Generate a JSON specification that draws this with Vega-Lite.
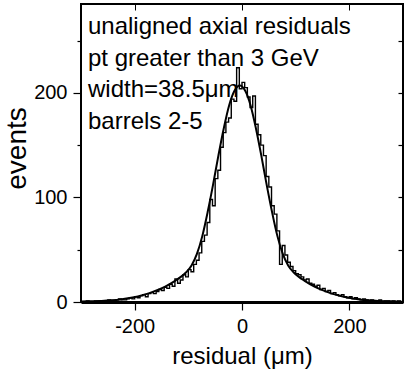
{
  "$schema": "https://vega.github.io/schema/vega-lite/v6.json",
  "autosize": {"type": "none"},
  "padding": {"left": 81, "top": 4, "right": 4, "bottom": 80},
  "width": 322,
  "height": 298,
  "background": "white",
  "config": {
    "view": {"stroke": "black", "strokeWidth": 2},
    "axis": {"labelFont": "Liberation Sans", "titleFont": "Liberation Sans", "labelColor": "black", "titleColor": "black", "tickColor": "black", "domainColor": "black", "grid": false, "titleFontWeight": "normal", "labelFlush": false}
  },
  "datasets": {
    "hist": [
      {"x": -300, "n": 0}, {"x": -295, "n": 0}, {"x": -290, "n": 1}, {"x": -285, "n": 0}, {"x": -280, "n": 0},
      {"x": -275, "n": 1}, {"x": -270, "n": 1}, {"x": -265, "n": 0}, {"x": -260, "n": 1}, {"x": -255, "n": 1},
      {"x": -250, "n": 2}, {"x": -245, "n": 1}, {"x": -240, "n": 1}, {"x": -235, "n": 2}, {"x": -230, "n": 3},
      {"x": -225, "n": 2}, {"x": -220, "n": 2}, {"x": -215, "n": 3}, {"x": -210, "n": 4}, {"x": -205, "n": 3},
      {"x": -200, "n": 5}, {"x": -195, "n": 4}, {"x": -190, "n": 6}, {"x": -185, "n": 7}, {"x": -180, "n": 5},
      {"x": -175, "n": 8}, {"x": -170, "n": 9}, {"x": -165, "n": 8}, {"x": -160, "n": 10}, {"x": -155, "n": 12},
      {"x": -150, "n": 11}, {"x": -145, "n": 14}, {"x": -140, "n": 13}, {"x": -135, "n": 17}, {"x": -130, "n": 15},
      {"x": -125, "n": 22}, {"x": -120, "n": 18}, {"x": -115, "n": 21}, {"x": -110, "n": 26}, {"x": -105, "n": 24},
      {"x": -100, "n": 31}, {"x": -95, "n": 29}, {"x": -90, "n": 36}, {"x": -85, "n": 40}, {"x": -80, "n": 47},
      {"x": -75, "n": 58}, {"x": -70, "n": 64}, {"x": -65, "n": 76}, {"x": -60, "n": 98}, {"x": -55, "n": 92},
      {"x": -50, "n": 118}, {"x": -45, "n": 126}, {"x": -40, "n": 148}, {"x": -35, "n": 162}, {"x": -30, "n": 172},
      {"x": -25, "n": 176}, {"x": -20, "n": 194}, {"x": -15, "n": 192}, {"x": -10, "n": 224}, {"x": -5, "n": 204},
      {"x": 0, "n": 210}, {"x": 5, "n": 205}, {"x": 10, "n": 196}, {"x": 15, "n": 186}, {"x": 20, "n": 197},
      {"x": 25, "n": 170}, {"x": 30, "n": 160}, {"x": 35, "n": 150}, {"x": 40, "n": 140}, {"x": 45, "n": 120},
      {"x": 50, "n": 110}, {"x": 55, "n": 92}, {"x": 60, "n": 84}, {"x": 65, "n": 68}, {"x": 70, "n": 36},
      {"x": 75, "n": 54}, {"x": 80, "n": 45}, {"x": 85, "n": 38}, {"x": 90, "n": 34}, {"x": 95, "n": 30},
      {"x": 100, "n": 27}, {"x": 105, "n": 26}, {"x": 110, "n": 24}, {"x": 115, "n": 21}, {"x": 120, "n": 22},
      {"x": 125, "n": 18}, {"x": 130, "n": 17}, {"x": 135, "n": 15}, {"x": 140, "n": 16}, {"x": 145, "n": 12},
      {"x": 150, "n": 13}, {"x": 155, "n": 10}, {"x": 160, "n": 11}, {"x": 165, "n": 8}, {"x": 170, "n": 9},
      {"x": 175, "n": 7}, {"x": 180, "n": 6}, {"x": 185, "n": 7}, {"x": 190, "n": 5}, {"x": 195, "n": 4},
      {"x": 200, "n": 5}, {"x": 205, "n": 3}, {"x": 210, "n": 4}, {"x": 215, "n": 3}, {"x": 220, "n": 2},
      {"x": 225, "n": 3}, {"x": 230, "n": 2}, {"x": 235, "n": 1}, {"x": 240, "n": 2}, {"x": 245, "n": 1},
      {"x": 250, "n": 1}, {"x": 255, "n": 2}, {"x": 260, "n": 0}, {"x": 265, "n": 1}, {"x": 270, "n": 1},
      {"x": 275, "n": 0}, {"x": 280, "n": 1}, {"x": 285, "n": 0}, {"x": 290, "n": 1}, {"x": 295, "n": 0},
      {"x": 300, "n": 0}
    ],
    "fit": [
      {"x": -300, "y": 0.4}, {"x": -284, "y": 0.6}, {"x": -264, "y": 1.0}, {"x": -244, "y": 1.6}, {"x": -224, "y": 2.7},
      {"x": -204, "y": 4.3}, {"x": -184, "y": 6.8}, {"x": -164, "y": 10.2}, {"x": -144, "y": 14.5}, {"x": -124, "y": 20.5},
      {"x": -114, "y": 24}, {"x": -104, "y": 28.5}, {"x": -94, "y": 35}, {"x": -84, "y": 46}, {"x": -74, "y": 63},
      {"x": -64, "y": 86}, {"x": -54, "y": 112}, {"x": -44, "y": 140}, {"x": -34, "y": 166}, {"x": -24, "y": 188},
      {"x": -14, "y": 202}, {"x": -4, "y": 207}, {"x": 6, "y": 202}, {"x": 16, "y": 188}, {"x": 26, "y": 166},
      {"x": 36, "y": 140}, {"x": 46, "y": 112}, {"x": 56, "y": 86}, {"x": 66, "y": 63}, {"x": 76, "y": 46},
      {"x": 86, "y": 35}, {"x": 96, "y": 28.5}, {"x": 106, "y": 24}, {"x": 116, "y": 20.5}, {"x": 136, "y": 14.5},
      {"x": 156, "y": 10.2}, {"x": 176, "y": 6.8}, {"x": 196, "y": 4.3}, {"x": 216, "y": 2.7}, {"x": 236, "y": 1.6},
      {"x": 256, "y": 1.0}, {"x": 276, "y": 0.6}, {"x": 296, "y": 0.35}, {"x": 300, "y": 0.33}
    ]
  },
  "resolve": {"scale": {"x": "shared", "y": "shared"}, "axis": {"x": "independent", "y": "independent"}},
  "layer": [
    {
      "data": {"name": "hist"},
      "mark": {"type": "line", "interpolate": "step-after", "color": "black", "strokeWidth": 1.4, "clip": true},
      "encoding": {
        "x": {"field": "x", "type": "quantitative", "scale": {"domain": [-300, 300], "nice": false, "zero": false},
          "axis": {"orient": "bottom", "values": [-200, 0, 200], "labelExpr": "'' + datum.value", "tickSize": 8, "tickWidth": 1.2, "labelFontSize": 20, "labelPadding": 6, "title": "residual (μm)", "titleFontSize": 24, "titlePadding": 8, "domainWidth": 3}},
        "y": {"field": "n", "type": "quantitative", "scale": {"domain": [0, 285], "nice": false, "zero": false},
          "axis": {"orient": "left", "values": [0, 100, 200], "tickSize": 8, "tickWidth": 1.2, "labelFontSize": 20, "labelPadding": 6, "title": "events", "titleFontSize": 28, "titleBaseline": "alphabetic", "titleX": -56, "titleY": 144, "domain": false}}
      }
    },
    {
      "data": {"name": "fit"},
      "mark": {"type": "line", "interpolate": "monotone", "color": "black", "strokeWidth": 2, "clip": true},
      "encoding": {
        "x": {"field": "x", "type": "quantitative",
          "axis": {"orient": "top", "values": [-200, 0, 200], "tickSize": -6, "tickWidth": 1, "labels": false, "domain": false, "title": null}},
        "y": {"field": "y", "type": "quantitative",
          "axis": {"orient": "right", "values": [50, 100, 150, 200, 250], "tickSize": -5, "tickWidth": 1.2, "labels": false, "domain": false, "title": null}}
      }
    },
    {
      "data": {"values": [{}]},
      "mark": {"type": "text", "align": "left", "baseline": "alphabetic", "font": "Liberation Sans", "fontSize": 24, "lineHeight": 31.5, "color": "black",
        "text": ["unaligned axial residuals", "pt greater than 3 GeV", "width=38.5μm", "barrels 2-5"]},
      "encoding": {
        "x": {"datum": -287, "type": "quantitative", "axis": null},
        "y": {"datum": 256, "type": "quantitative",
          "axis": {"orient": "left", "values": [50, 150, 250], "tickSize": 4, "tickWidth": 1.2, "labels": false, "domain": false, "title": null}}
      }
    }
  ]
}
